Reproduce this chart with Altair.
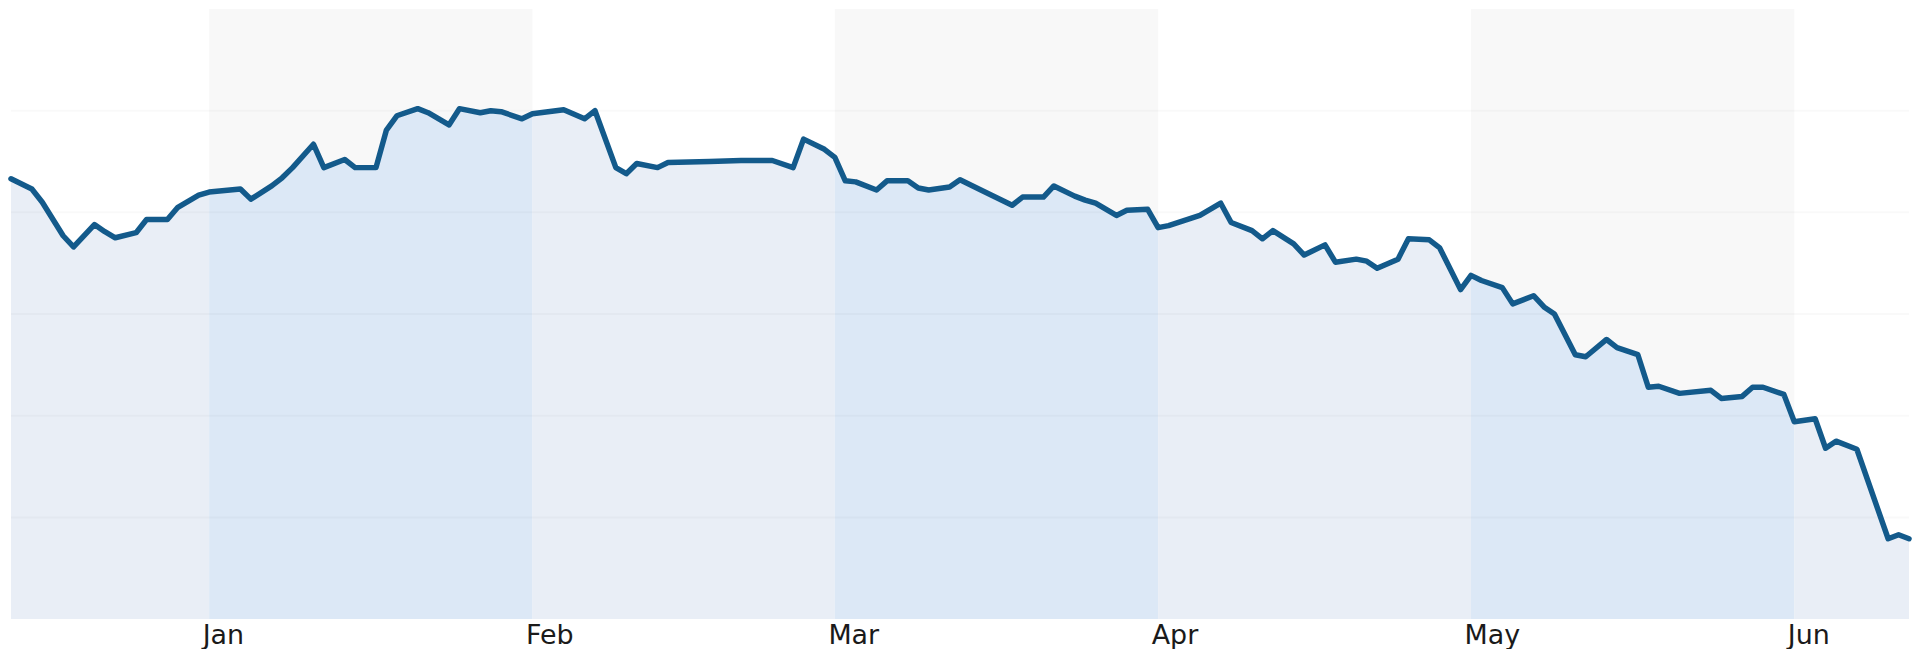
import altair as alt
import pandas as pd

# ---- data ----
dates = [
    "2007-12-13", "2007-12-15", "2007-12-16", "2007-12-18", "2007-12-19", "2007-12-21", "2007-12-22",
    "2007-12-23", "2007-12-25", "2007-12-26", "2007-12-28", "2007-12-29", "2007-12-31",
    "2008-01-01", "2008-01-04", "2008-01-05", "2008-01-07", "2008-01-08", "2008-01-09", "2008-01-11",
    "2008-01-12", "2008-01-14", "2008-01-15", "2008-01-17", "2008-01-18", "2008-01-19", "2008-01-21",
    "2008-01-22", "2008-01-24", "2008-01-25", "2008-01-27", "2008-01-28", "2008-01-29", "2008-01-31",
    "2008-02-01", "2008-02-04", "2008-02-06", "2008-02-07", "2008-02-09", "2008-02-10", "2008-02-11",
    "2008-02-13", "2008-02-14", "2008-02-18", "2008-02-21", "2008-02-24", "2008-02-26", "2008-02-27",
    "2008-02-29",
    "2008-03-01", "2008-03-02", "2008-03-03", "2008-03-05", "2008-03-06", "2008-03-08", "2008-03-09",
    "2008-03-10", "2008-03-12", "2008-03-13", "2008-03-15", "2008-03-18", "2008-03-19", "2008-03-21",
    "2008-03-22", "2008-03-24", "2008-03-25", "2008-03-26", "2008-03-28", "2008-03-29", "2008-03-31",
    "2008-04-01", "2008-04-02", "2008-04-05", "2008-04-07", "2008-04-08", "2008-04-10", "2008-04-11",
    "2008-04-12", "2008-04-14", "2008-04-15", "2008-04-17", "2008-04-18", "2008-04-20", "2008-04-21",
    "2008-04-22", "2008-04-24", "2008-04-25", "2008-04-27", "2008-04-28", "2008-04-30",
    "2008-05-01", "2008-05-02", "2008-05-04", "2008-05-05", "2008-05-07", "2008-05-08", "2008-05-09",
    "2008-05-11", "2008-05-12", "2008-05-14", "2008-05-15", "2008-05-17", "2008-05-18", "2008-05-19",
    "2008-05-21", "2008-05-24", "2008-05-25", "2008-05-27", "2008-05-28", "2008-05-29", "2008-05-31",
    "2008-06-01", "2008-06-03", "2008-06-04", "2008-06-05", "2008-06-07", "2008-06-10", "2008-06-11",
    "2008-06-12",
]

values = [
    43.3, 42.3, 41.0, 37.7, 36.6, 38.8, 38.1, 37.5, 38.0, 39.3, 39.3, 40.5, 41.7,
    42.0, 42.3, 41.3, 42.6, 43.4, 44.4, 46.7, 44.4, 45.2, 44.4, 44.4, 48.1, 49.5, 50.2,
    49.8, 48.6, 50.2, 49.8, 50.0, 49.9, 49.2,
    49.7, 50.1, 49.2, 50.0, 44.4, 43.8, 44.8, 44.4, 44.9, 45.0, 45.1, 45.1, 44.4, 47.2, 46.2,
    45.4, 43.1, 43.0, 42.2, 43.1, 43.1, 42.4, 42.2, 42.5, 43.2, 42.2, 40.7, 41.5, 41.5,
    42.6, 41.6, 41.2, 40.9, 39.7, 40.2, 40.3,
    38.5, 38.7, 39.7, 40.9, 39.0, 38.2, 37.4, 38.2, 36.9, 35.8, 36.8, 35.1, 35.4, 35.2,
    34.5, 35.4, 37.4, 37.3, 36.5, 32.4,
    33.8, 33.3, 32.6, 31.0, 31.8, 30.7, 30.0, 26.0, 25.8, 27.5, 26.7, 26.0, 22.8, 22.9,
    22.2, 22.5, 21.7, 21.9, 22.8, 22.8, 22.1,
    19.4, 19.7, 16.8, 17.5, 16.7, 7.9, 8.3, 7.9,
]

band_starts = ["2007-12-01", "2008-01-01", "2008-02-01", "2008-03-01", "2008-04-01", "2008-05-01", "2008-06-01"]
band_ends = ["2008-01-01", "2008-02-01", "2008-03-01", "2008-04-01", "2008-05-01", "2008-06-01", "2008-07-01"]
band_shaded = [False, True, False, True, False, True, False]

grid_values = [10, 20, 30, 40, 50]
y_min, y_max = 0, 60

# ---- tables ----
series = pd.DataFrame({"date": pd.to_datetime(dates), "value": values})
bands = pd.DataFrame({
    "start": pd.to_datetime(band_starts),
    "end": pd.to_datetime(band_ends),
    "shaded": ["odd" if s else "even" for s in band_shaded],
})
shaded_bands = bands[bands["shaded"] == "odd"]
grid = pd.DataFrame({"g": grid_values})

W, H = 1904, 612

x_scale = alt.Scale(domain=[alt.DateTime(year=2007, month=12, date=13),
                            alt.DateTime(year=2008, month=6, date=12)])
y_scale = alt.Scale(domain=[y_min, y_max], nice=False, zero=False)

month_ticks = [alt.DateTime(year=2008, month=m, date=1) for m in range(1, 7)]

x_axis = alt.Axis(values=month_ticks, format="%b", labelAlign="left", labelBaseline="top",
                  labelFont="DejaVu Sans", labelFontSize=27, labelColor="#1a1a1a",
                  labelPadding=3, labelOffset=-7, domain=False, ticks=False, grid=False,
                  title=None, labelFlush=False, labelOverlap=False)

# 1. under-line colours for all month bands
under = alt.Chart(bands).mark_rect(clip=True).encode(
    x=alt.X("start:T", scale=x_scale, axis=x_axis),
    x2="end:T",
    y=alt.Y("y0:Q", scale=y_scale, axis=None),
    y2="y1:Q",
    color=alt.Color("shaded:N", scale=alt.Scale(domain=["even", "odd"], range=["#e9eef6", "#e0eefd"]),
                    legend=None),
).transform_calculate(y0=str(y_min), y1=str(y_max))

# 2. white mask above the line
mask = alt.Chart(series).mark_area(color="white", opacity=1).encode(
    x=alt.X("date:T", scale=x_scale, axis=x_axis),
    y=alt.Y("value:Q", scale=y_scale, axis=None),
    y2="top:Q",
).transform_calculate(top=str(y_max))

# 3. grey tint for alternating months (whole height)
tint = alt.Chart(shaded_bands).mark_rect(clip=True, color="#b9b9b9", opacity=0.1).encode(
    x=alt.X("start:T", scale=x_scale, axis=x_axis),
    x2="end:T",
    y=alt.Y("y0:Q", scale=y_scale, axis=None),
    y2="y1:Q",
).transform_calculate(y0=str(y_min), y1=str(y_max))

# 4. faint horizontal gridlines
rules = alt.Chart(grid).mark_rule(color="#000000", opacity=0.022, strokeWidth=2).encode(
    y=alt.Y("g:Q", scale=y_scale, axis=None),
)

# 5. the line
line = alt.Chart(series).mark_line(color="#135a8b", strokeWidth=5.5, strokeJoin="round",
                                   strokeCap="round").encode(
    x=alt.X("date:T", scale=x_scale, axis=x_axis),
    y=alt.Y("value:Q", scale=y_scale, axis=None),
)

chart = alt.layer(under, mask, tint, rules, line).properties(
    width=W, height=H, padding=0, background="white"
).configure_view(stroke=None)

chart.save("out.html", embed_options={"renderer": "svg", "actions": False})
